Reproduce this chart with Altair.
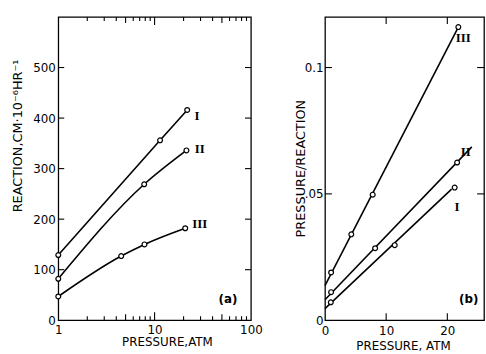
import altair as alt
import pandas as pd

# ---------------- Panel (a): reaction vs pressure (log pressure) ----------------
a_I_pressure = [1, 11.4, 21.8]
a_I_reaction = [129, 356, 416]
a_II_pressure = [1, 7.8, 21.4]
a_II_reaction = [82, 269, 336]
a_III_pressure = [1, 4.5, 7.85, 20.8]
a_III_reaction = [47, 127, 150, 182]

a_xtick_labels = [1, 10, 100]
a_ytick_labels = [0, 100, 200, 300, 400, 500]
a_minor_ticks = [2, 3, 4, 6, 7, 8, 9, 20, 30, 40, 60, 70, 80, 90]
a_mid_ticks = [5, 50]
a_major_ticks = [10]
a_y_ticks = [100, 200, 300, 400, 500]

# curve labels (data coordinates)
a_label_text = ["I", "II", "III"]
a_label_p = [27.5, 29.5, 29.5]
a_label_r = [404, 338, 191]
a_panel_text = ["(a)"]
a_panel_p = [57.7]
a_panel_r = [41]

# ---------------- Panel (b): pressure/reaction vs pressure ----------------
b_I_pressure = [0.95, 11.4, 21.2]
b_I_ratio = [0.0071, 0.0297, 0.0525]
b_II_pressure = [1.0, 8.2, 21.6]
b_II_ratio = [0.0111, 0.0285, 0.0624]
b_III_pressure = [1.0, 4.3, 7.8, 21.8]
b_III_ratio = [0.0189, 0.034, 0.0497, 0.116]

# straight lines drawn through the (b) points: end points
b_I_line_pressure = [0, 20.7]
b_I_line_ratio = [0.0046, 0.0519]
b_II_line_pressure = [0, 24.0]
b_II_line_ratio = [0.0081, 0.0686]
b_III_line_pressure = [0, 21.8]
b_III_line_ratio = [0.0137, 0.116]

b_xtick_labels = [0, 10, 20]
b_ytick_labels = [0, 0.05, 0.1]
b_x_ticks = [10, 20]
b_y_ticks = [0.05, 0.1]

b_label_text = ["III", "II", "I"]
b_label_p = [22.6, 23.0, 21.6]
b_label_v = [0.1115, 0.0665, 0.0446]
b_panel_text = ["(b)"]
b_panel_p = [23.5]
b_panel_v = [0.0082]

FONT = "DejaVu Sans"
H = 307
WA = 195
WB = 161


def frame_df(series_lists):
    rows = []
    for name, xs, ys in series_lists:
        for x, y in zip(xs, ys):
            rows.append({"series": name, "x": x, "y": y})
    return pd.DataFrame(rows)


# ---------------- scales & axes ----------------
ax = alt.Scale(type="log", domain=[1, 100], nice=False)
ay = alt.Scale(domain=[0, 600], nice=False)
bx = alt.Scale(domain=[0, 26], nice=False)
by = alt.Scale(domain=[0, 0.12], nice=False)

ax_axis = alt.Axis(
    values=a_xtick_labels, format="d", ticks=False, tickSize=0, domain=False,
    grid=False, labelPadding=4, labelFlush=False, labelOverlap=False,
    title="PRESSURE,ATM", titleX=110, titleY=22, titleAlign="center",
    titleBaseline="middle", titleFontSize=12)
ay_axis = alt.Axis(
    values=a_ytick_labels, ticks=False, tickSize=0, domain=False, grid=False,
    labelPadding=3, labelOverlap=False,
    title="REACTION,CM·10⁻⁶HR⁻¹", titleAngle=270, titleX=-41, titleY=120,
    titleAlign="center", titleBaseline="middle", titleFontSize=13)
bx_axis = alt.Axis(
    values=b_xtick_labels, format="d", ticks=False, tickSize=0, domain=False,
    grid=False, labelPadding=5, labelFlush=False, labelOverlap=False,
    title="PRESSURE, ATM", titleX=79, titleY=26, titleAlign="center",
    titleBaseline="middle", titleFontSize=12)
by_axis = alt.Axis(
    values=b_ytick_labels, ticks=False, tickSize=0, domain=False, grid=False,
    labelPadding=2, labelOverlap=False,
    labelExpr="datum.value < 0.01 ? '0\u00a0\u00a0' : (datum.value < 0.07 ? '.05' : '0.1')",
    title="PRESSURE/REACTION", titleAngle=270, titleX=-25, titleY=153,
    titleAlign="center", titleBaseline="middle", titleFontSize=13)


def X(field, sc, axis):
    return alt.X(field, scale=sc, axis=axis)


def Y(field, sc, axis):
    return alt.Y(field, scale=sc, axis=axis)


def tick_layers(vals, xs, ys, xaxis, yaxis, length, which, W):
    df = pd.DataFrame({"v": vals})
    base = alt.Chart(df).mark_rule(color="black", strokeWidth=1.1)
    if which == "x":
        enc = X("v:Q", xs, xaxis)
        return [
            base.encode(x=enc, y=alt.value(H), y2=alt.value(H - length)),
            base.encode(x=enc, y=alt.value(0), y2=alt.value(length)),
        ]
    enc = Y("v:Q", ys, yaxis)
    return [
        base.encode(y=enc, x=alt.value(0), x2=alt.value(length)),
        base.encode(y=enc, x=alt.value(W), x2=alt.value(W - length)),
    ]


# ---------------- build panel (a) ----------------
a_pts = frame_df([
    ("I", a_I_pressure, a_I_reaction),
    ("II", a_II_pressure, a_II_reaction),
    ("III", a_III_pressure, a_III_reaction),
])

a_lines = alt.Chart(a_pts).mark_line(
    color="black", strokeWidth=1.6, interpolate="monotone"
).encode(
    x=X("x:Q", ax, ax_axis), y=Y("y:Q", ay, ay_axis), detail="series:N",
)

a_points = alt.Chart(a_pts).mark_point(
    shape="circle", filled=True, fill="white", stroke="black", strokeWidth=1.2,
    size=24, opacity=1
).encode(x=X("x:Q", ax, ax_axis), y=Y("y:Q", ay, ay_axis))

a_labels = alt.Chart(pd.DataFrame({"t": a_label_text, "x": a_label_p, "y": a_label_r})).mark_text(
    font="Liberation Serif", fontWeight="bold", fontSize=13, color="black"
).encode(x=X("x:Q", ax, ax_axis), y=Y("y:Q", ay, ay_axis), text="t:N")

a_panel = alt.Chart(pd.DataFrame({"t": a_panel_text, "x": a_panel_p, "y": a_panel_r})).mark_text(
    font=FONT, fontSize=12, fontWeight="bold", color="black"
).encode(x=X("x:Q", ax, ax_axis), y=Y("y:Q", ay, ay_axis), text="t:N")

a_layers = [a_lines, a_points, a_labels, a_panel]
a_layers += tick_layers(a_minor_ticks, ax, ay, ax_axis, ay_axis, 4, "x", WA)
a_layers += tick_layers(a_mid_ticks, ax, ay, ax_axis, ay_axis, 6, "x", WA)
a_layers += tick_layers(a_major_ticks, ax, ay, ax_axis, ay_axis, 8, "x", WA)
a_layers += tick_layers(a_y_ticks, ax, ay, ax_axis, ay_axis, 6, "y", WA)

panel_a = alt.layer(*a_layers).properties(width=WA, height=H)

# ---------------- build panel (b) ----------------
b_pts = frame_df([
    ("I", b_I_pressure, b_I_ratio),
    ("II", b_II_pressure, b_II_ratio),
    ("III", b_III_pressure, b_III_ratio),
])
b_fit = frame_df([
    ("I", b_I_line_pressure, b_I_line_ratio),
    ("II", b_II_line_pressure, b_II_line_ratio),
    ("III", b_III_line_pressure, b_III_line_ratio),
])

b_lines = alt.Chart(b_fit).mark_line(color="black", strokeWidth=1.6).encode(
    x=X("x:Q", bx, bx_axis), y=Y("y:Q", by, by_axis), detail="series:N",
)

b_points = alt.Chart(b_pts).mark_point(
    shape="circle", filled=True, fill="white", stroke="black", strokeWidth=1.2,
    size=24, opacity=1
).encode(x=X("x:Q", bx, bx_axis), y=Y("y:Q", by, by_axis))

b_labels = alt.Chart(pd.DataFrame({"t": b_label_text, "x": b_label_p, "y": b_label_v})).mark_text(
    font="Liberation Serif", fontWeight="bold", fontSize=13, color="black"
).encode(x=X("x:Q", bx, bx_axis), y=Y("y:Q", by, by_axis), text="t:N")

b_panel = alt.Chart(pd.DataFrame({"t": b_panel_text, "x": b_panel_p, "y": b_panel_v})).mark_text(
    font=FONT, fontSize=12, fontWeight="bold", color="black"
).encode(x=X("x:Q", bx, bx_axis), y=Y("y:Q", by, by_axis), text="t:N")

b_layers = [b_lines, b_points, b_labels, b_panel]
b_layers += tick_layers(b_x_ticks, bx, by, bx_axis, by_axis, 7, "x", WB)
b_layers += tick_layers(b_y_ticks, bx, by, bx_axis, by_axis, 7, "y", WB)

panel_b = alt.layer(*b_layers).properties(width=WB, height=H)

chart = alt.hconcat(panel_a, panel_b, spacing=75, bounds="flush").configure(
    padding={"left": 11, "top": 13, "right": 0, "bottom": 0},
    background="white",
).configure_view(
    stroke="black", strokeWidth=1.3
).configure_axis(
    labelFont=FONT, labelFontSize=12, labelColor="black",
    titleFont=FONT, titleFontWeight="normal", titleColor="black",
)

chart.save("out.html", embed_options={"renderer": "svg", "actions": False})
